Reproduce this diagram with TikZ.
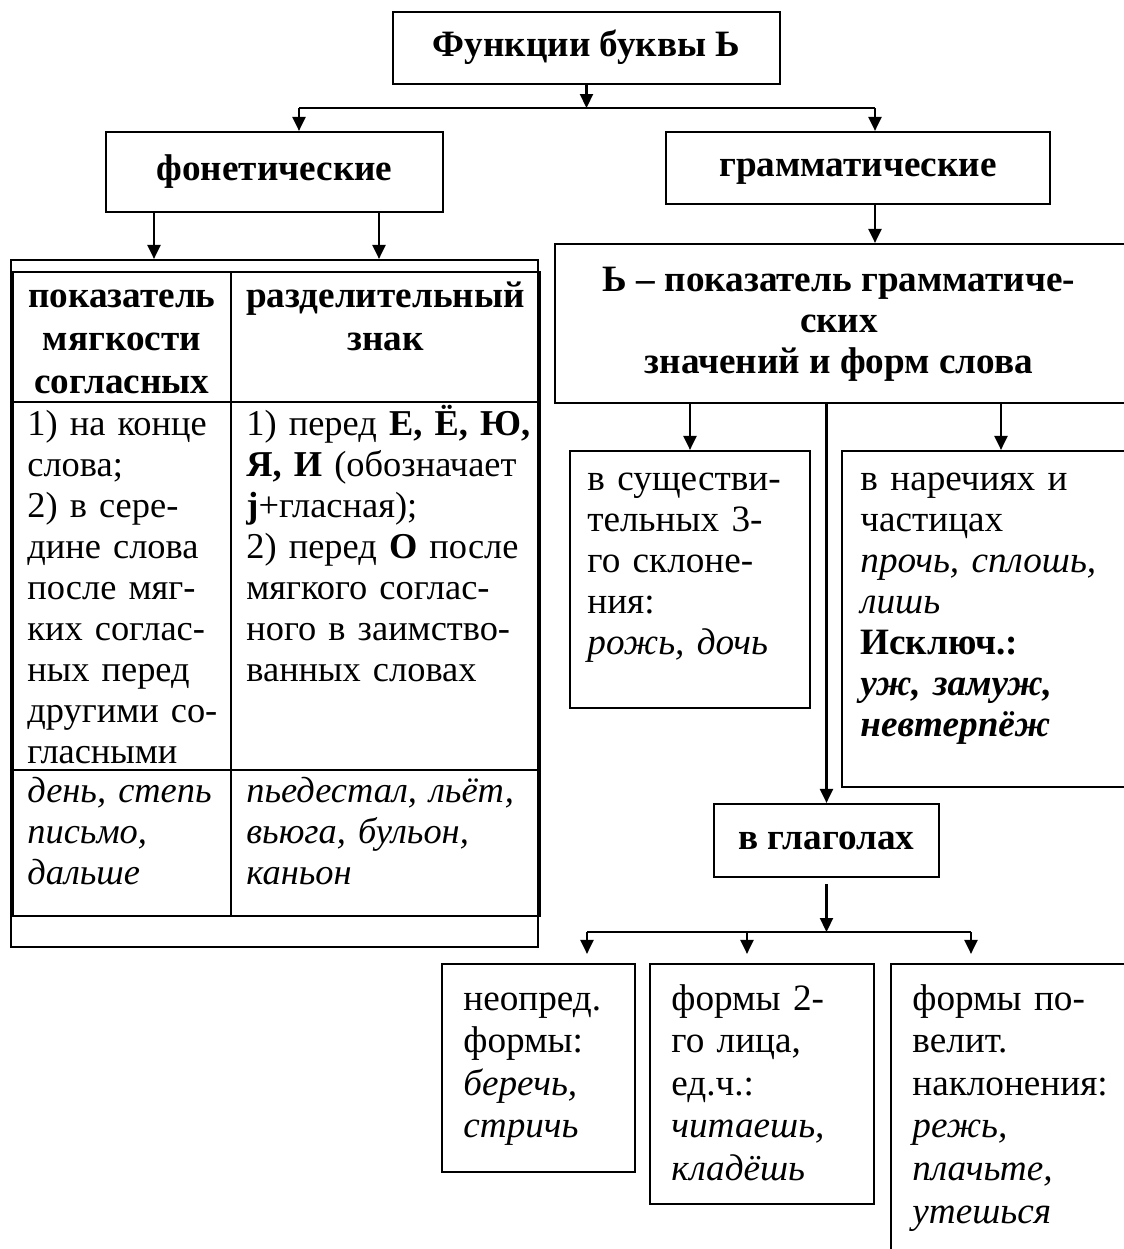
\documentclass[tikz,border=0pt]{standalone}
\usepackage{fontspec}
\setmainfont{Liberation Serif}
\usetikzlibrary{arrows.meta}

\tikzset{
  box/.style={draw, line width=1.1pt, inner sep=0pt},
  onebox/.style={box, font=\bfseries, text height=12.5pt, text depth=4pt},
  cell/.style={inner sep=0pt, anchor=base west, align=left, text width=#1},
  arr/.style={line width=1.1pt, -{Triangle[length=7pt,width=6.5pt]}},
  ln/.style={line width=1.1pt}
}

\begin{document}
\fontsize{18.6}{20.5}\selectfont
\begin{tikzpicture}[x=0.5pt,y=-0.5pt]
    \path[use as bounding box, clip] (0,0) rectangle (1124,1249);

    \node[onebox, minimum width=193.5pt, minimum height=36pt] (title) at (586.5,48) {Функции буквы Ь};
    \node[onebox, minimum width=168.5pt, minimum height=40pt] (phon) at (274.5,172) {фонетические};
    \node[onebox, minimum width=192pt, minimum height=36pt] (gram) at (858,168) {грамматические};

    \coordinate (fork) at (587,108);
    \coordinate (phin) at ([xshift=12.25pt]phon.north);
    \coordinate (grin) at ([xshift=8.5pt]gram.north);
    \draw[arr] (title.south) -- (title.south |- fork);
    \draw[ln] (phin |- fork) -- (grin |- fork);
    \draw[arr] (phin |- fork) -- (phin);
    \draw[arr] (grin |- fork) -- (grin);

    \begin{scope}[font=\fontsize{18.2}{20.5}\selectfont]
    \node[box, minimum width=263.5pt, minimum height=343.5pt] (tabframe) at (274.5,603.5) {};
    \draw[ln] (12.5,272) rectangle (540,916);
    \draw[ln] (231,272) -- (231,916);
    \draw[ln] (12.5,402) -- (540,402);
    \draw[ln] (12.5,770) -- (540,770);
    \draw[arr] ([xshift=-60.25pt]phon.south) -- ([xshift=-60.25pt]tabframe.north);
    \draw[arr] ([xshift=52.25pt]phon.south) -- ([xshift=52.25pt]tabframe.north);

    \node[cell=109pt, align=center, font=\bfseries\fontsize{18.6}{21.5}\selectfont] (soft) at (12.5,307) {показатель\\мягкости\\согласных};
    \node[cell=154pt, align=center, font=\bfseries\fontsize{18.6}{21.5}\selectfont] (sep) at (231,307) {разделительный\\знак};
    \node[cell=100pt] (softuse) at (27,435) {1) на конце\\слова;\\2) в сере-\\дине слова\\после мяг-\\ких соглас-\\ных перед\\другими со-\\гласными};
    \node[cell=150pt] (sepuse) at (246,435) {1) перед \textbf{Е, Ё, Ю,}\\\textbf{Я, И} (обозначает\\\textbf{j}+гласная);\\2) перед \textbf{О} после\\мягкого соглас-\\ного в заимство-\\ванных словах};
    \node[cell=100pt, font=\fontsize{18.2}{20.5}\selectfont\itshape] (softex) at (27,802) {день, степь\\письмо,\\дальше};
    \node[cell=150pt, font=\fontsize{18.2}{20.5}\selectfont\itshape] (sepex) at (246,802) {пьедестал, льёт,\\вьюга, бульон,\\каньон};
    \end{scope}

    \node[box, minimum width=292.5pt, minimum height=79.5pt] (gramform) at (847.5,323.5) {};
    \node[font=\bfseries, align=center, inner sep=0pt] (gramtxt) at (839,324) {Ь – показатель грамматиче-\\ских\\значений и форм слова};
    \draw[arr] (gram.south -| grin) -- (gramform.north -| grin);

    \node[box, minimum width=120pt, minimum height=128.5pt] (noun) at (690,579.5) {};
    \node[box, minimum width=159pt, minimum height=168pt] (adv) at (1001,619) {};
    \node[onebox, minimum width=112.5pt, minimum height=36.5pt] (verb) at (826.5,840.5) {в глаголах};
    \draw[arr] (gramform.south -| noun.north) -- (noun.north);
    \draw[arr] (gramform.south -| adv.north) -- (adv.north);
    \draw[arr] (gramform.south -| verb.north) -- (verb.north);

    \node[cell=110pt] (nountxt) at (587,490) {в существи-\\тельных 3-\\го склоне-\\ния:\\\textit{рожь, дочь}};
    \node[cell=130pt] (advtxt) at (860,490) {в наречиях и\\частицах\\\textit{прочь, сплошь,}\\\textit{лишь}\\\textbf{Исключ.:}\\\textbf{\textit{уж, замуж,}}\\\textbf{\textit{невтерпёж}}};

    \coordinate (vf1) at (587,932);
    \coordinate (vf2) at (747,932);
    \coordinate (vf3) at (971,932);
    \node[box, minimum width=96.5pt, minimum height=104pt] (inf) at (538.5,1068) {};
    \node[box, minimum width=112pt, minimum height=120pt] (pers) at (762,1084) {};
    \node[box, minimum width=124.5pt, minimum height=158pt] (imp) at (1015.5,1122) {};
    \draw[arr] ([yshift=-3pt]verb.south) -- (verb.south |- vf1);
    \draw[ln] (vf1) -- (vf3);
    \draw[arr, shorten >=4.5pt] (vf1) -- (vf1 |- inf.north);
    \draw[arr, shorten >=4.5pt] (vf2) -- (vf2 |- pers.north);
    \draw[arr, shorten >=4.5pt] (vf3) -- (vf3 |- imp.north);

    \node[cell=90pt, font=\fontsize{18.6}{21.3}\selectfont] (inftxt) at (463,1010) {неопред.\\формы:\\\textit{беречь,}\\\textit{стричь}};
    \node[cell=100pt, font=\fontsize{18.6}{21.3}\selectfont] (perstxt) at (671,1010) {формы 2-\\го лица,\\ед.ч.:\\\textit{читаешь,}\\\textit{кладёшь}};
    \node[cell=110pt, font=\fontsize{18.6}{21.3}\selectfont] (imptxt) at (912,1010) {формы по-\\велит.\\наклонения:\\\textit{режь,}\\\textit{плачьте,}\\\textit{утешься}};
\end{tikzpicture}
\end{document}
